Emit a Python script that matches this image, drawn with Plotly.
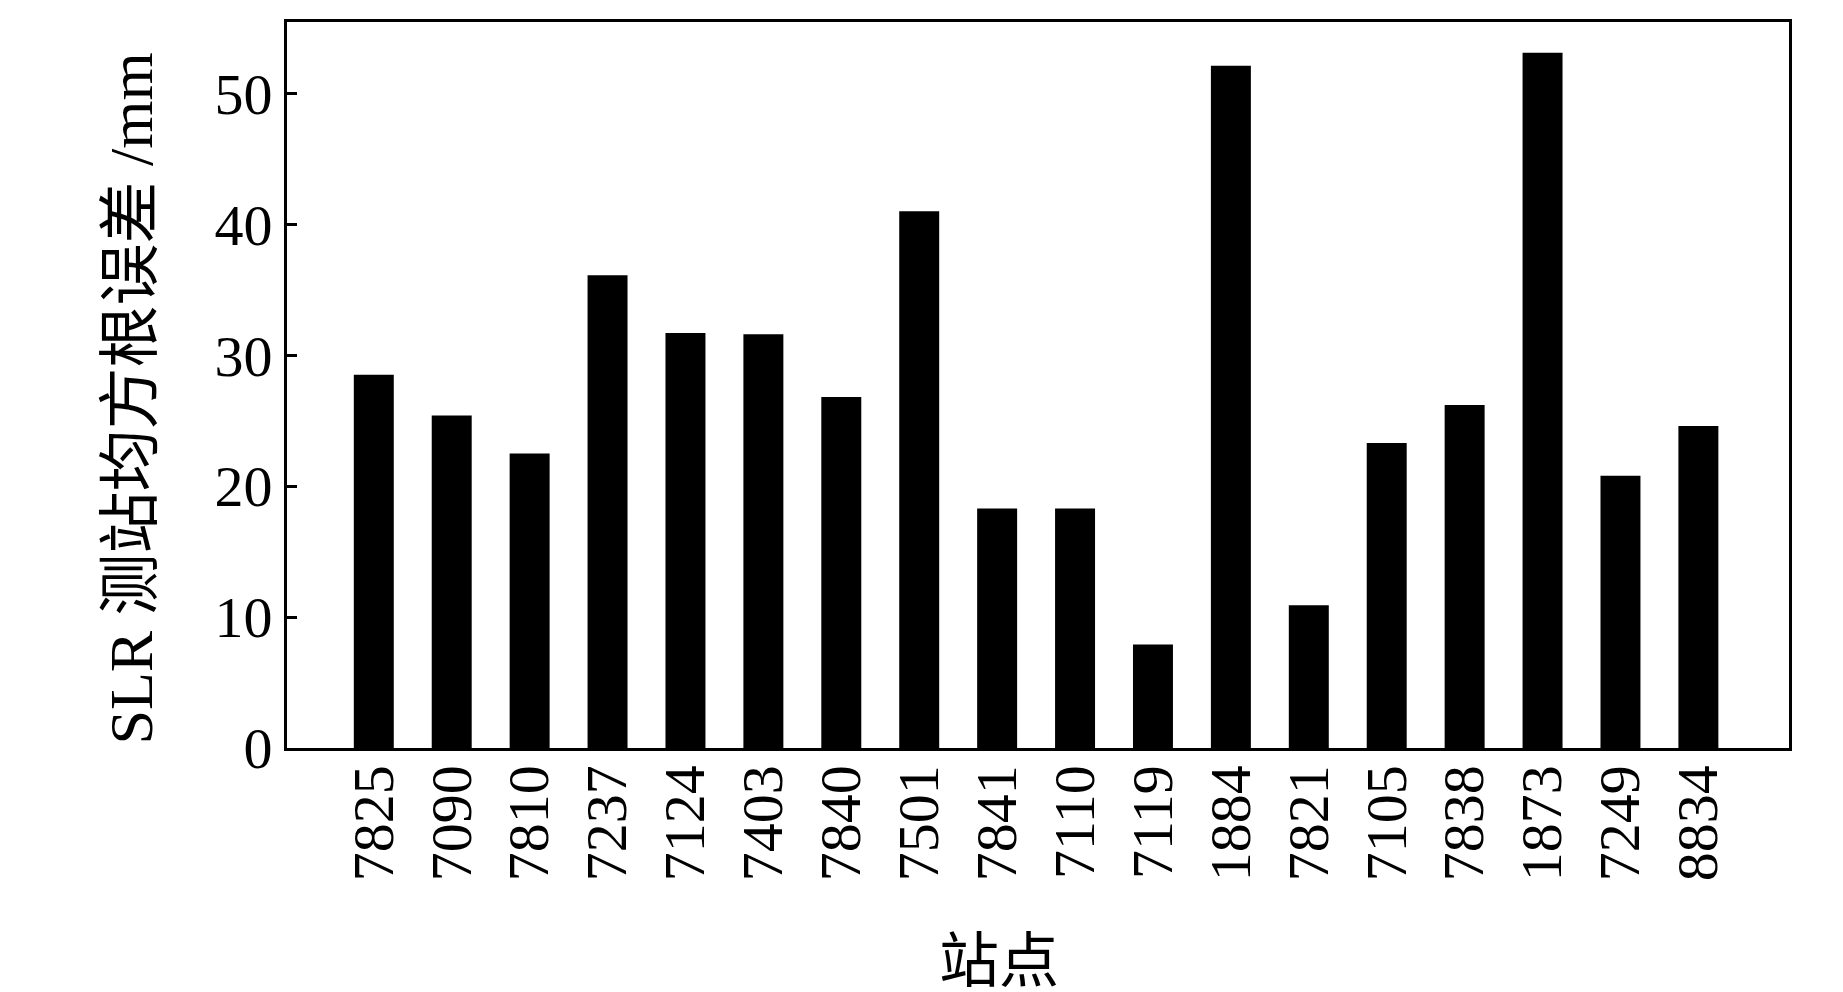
import plotly.graph_objects as go

stations = ["7825", "7090", "7810", "7237", "7124", "7403", "7840", "7501", "7841",
            "7110", "7119", "1884", "7821", "7105", "7838", "1873", "7249", "8834"]
rmse_mm = [28.5, 25.4, 22.5, 36.1, 31.7, 31.6, 26.8, 41.0, 18.3,
           18.3, 7.9, 52.1, 10.9, 23.3, 26.2, 53.1, 20.8, 24.6]
y_ticks = [0, 10, 20, 30, 40, 50]

FONT = "Liberation Serif, Times New Roman, Noto Sans CJK SC"

fig = go.Figure(
    go.Bar(x=stations, y=rmse_mm, marker=dict(color="black", line=dict(width=0)))
)

# page body adds 8px offset, so margins are shifted accordingly
fig.update_layout(
    width=1843,
    height=992,
    margin=dict(l=279, r=62, t=14, b=252),
    plot_bgcolor="white",
    paper_bgcolor="white",
    bargap=0.487,
    showlegend=False,
    font=dict(family=FONT, size=58, color="black"),
)
fig.update_xaxes(
    type="category",
    range=[-1.114, 18.163],
    tickangle=-90,
    ticks="",
    showline=True,
    linecolor="black",
    linewidth=3,
    mirror=True,
    showgrid=False,
    ticklabelstandoff=-9,
    tickfont=dict(family=FONT, size=58),
)
fig.update_yaxes(
    range=[0, 55.45],
    tickvals=y_ticks,
    ticks="inside",
    ticklen=10,
    tickwidth=3,
    tickcolor="black",
    showline=True,
    linecolor="black",
    linewidth=3,
    mirror=True,
    showgrid=False,
    zeroline=False,
    tickfont=dict(family=FONT, size=58),
)

fig.add_annotation(
    text="站点", xref="paper", yref="paper", x=0.474, y=-0.295,
    xanchor="center", yanchor="middle", showarrow=False,
    font=dict(family=FONT, size=60),
)
fig.add_annotation(
    text="SLR 测站均方根误差 /mm", xref="paper", yref="paper", x=-0.104, y=0.481,
    xanchor="center", yanchor="middle", textangle=-90, showarrow=False,
    font=dict(family=FONT, size=62),
)

fig.write_html("out.html")
